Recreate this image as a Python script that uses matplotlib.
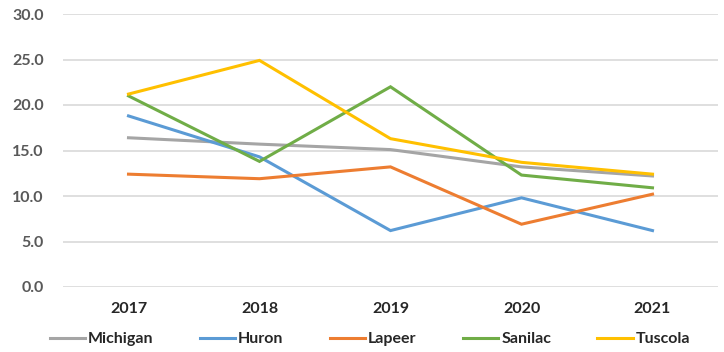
import matplotlib
matplotlib.use("Agg")
import matplotlib.pyplot as plt

years = ["2017", "2018", "2019", "2020", "2021"]
michigan = [16.4, 15.7, 15.1, 13.2, 12.2]
huron = [18.8, 14.3, 6.2, 9.8, 6.2]
lapeer = [12.4, 11.9, 13.2, 6.9, 10.2]
sanilac = [21.0, 13.8, 22.0, 12.3, 10.9]
tuscola = [21.2, 24.9, 16.3, 13.7, 12.4]
series_names = ["Michigan", "Huron", "Lapeer", "Sanilac", "Tuscola"]
yticks = [0, 5, 10, 15, 20, 25, 30]

colors = ["#A5A5A5", "#5B9BD5", "#ED7D31", "#70AD47", "#FFC000"]

plt.rcParams['font.family'] = ['Lato', 'DejaVu Sans']

fig = plt.figure(figsize=(7.24, 3.52), dpi=100)
ax = fig.add_axes([63/724, 1-287/352, (718-63)/724, (287-14)/352])

x = list(range(len(years)))
for vals, name, c in zip([michigan, huron, lapeer, sanilac, tuscola], series_names, colors):
    ax.plot(x, vals, color=c, lw=2.2, label=name, solid_joinstyle='miter')

ax.set_xlim(-0.5, len(years) - 0.5)
ax.set_ylim(0, 30)
ax.set_yticks(yticks)
ax.set_yticklabels([f"{v:.1f}" for v in yticks], fontsize=11.5, fontweight='bold', color='#595959')
ax.set_xticks(x)
ax.set_xticklabels(years, fontsize=11.5, fontweight='bold', color='#262626')
ax.tick_params(axis='both', length=0)
ax.tick_params(axis='y', pad=14)
ax.tick_params(axis='x', pad=11)
ax.grid(axis='y', color='#D9D9D9', lw=1.2)
ax.set_axisbelow(True)
for s in ax.spines.values():
    s.set_visible(False)

leg = fig.legend(loc='center', bbox_to_anchor=(0.511, 1-339/352), ncol=5, frameon=False,
                 prop={'size': 11.5, 'weight': 'bold'}, handlelength=2.2, handletextpad=0.2,
                 columnspacing=2.9)
for t in leg.get_texts():
    t.set_color('#262626')

fig.savefig("out.png", dpi=100)
